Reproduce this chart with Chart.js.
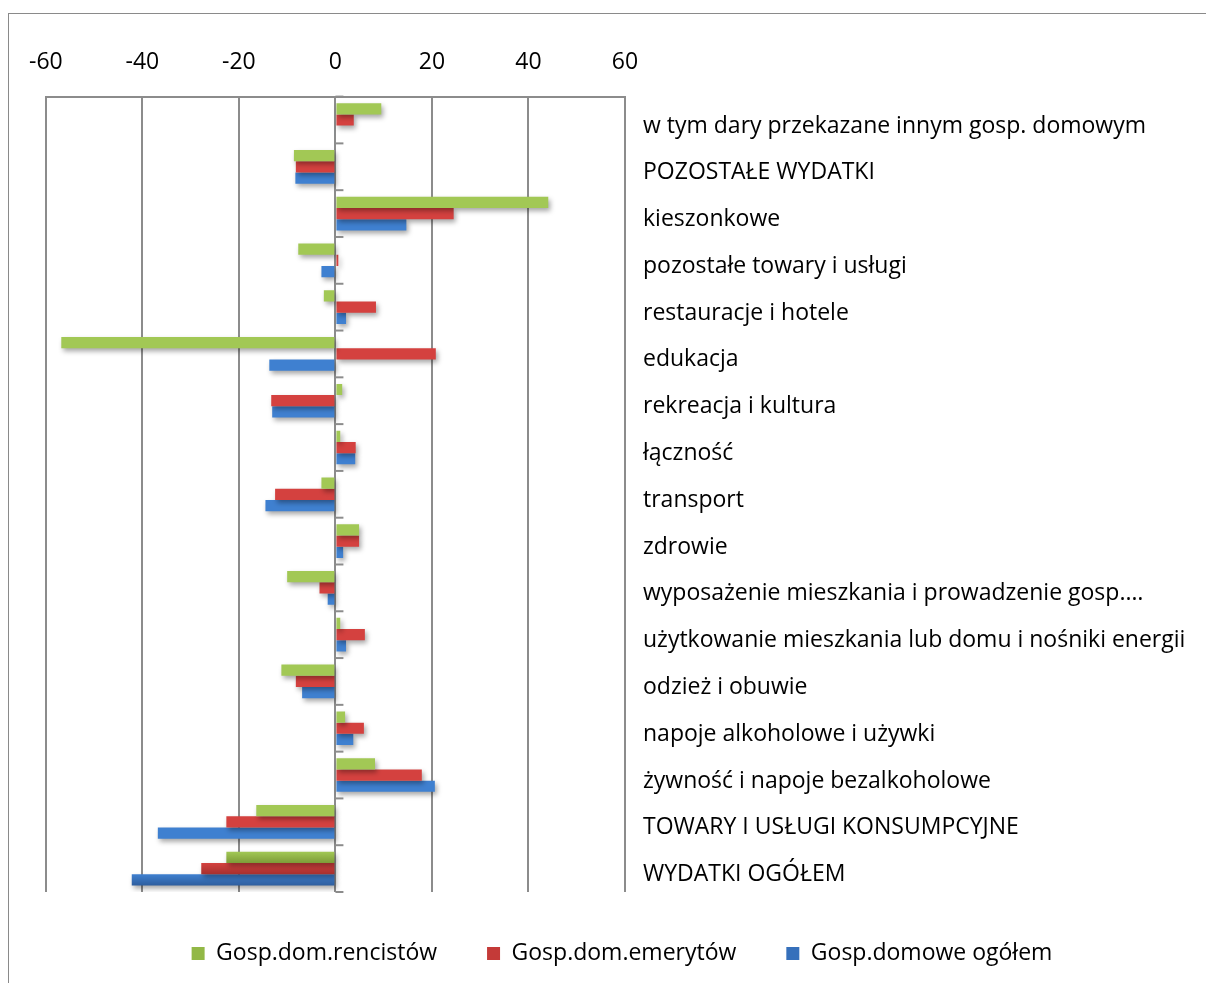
<!DOCTYPE html>
<html>
<head>
<meta charset="utf-8">
<script src="https://cdn.jsdelivr.net/npm/chart.js@4.4.1/dist/chart.umd.min.js"></script>
<style>
  html, body { margin: 0; padding: 0; background: #fff; overflow: hidden; }
  #box { position: absolute; left: 8px; top: 13px; width: 1224px; height: 982px; border: 1px solid #8a8a8a; }
  canvas { display: block; }
</style>
</head>
<body>
<div id="box"><canvas id="c" width="1198" height="980"></canvas></div>
<script>
const categories = [
  "w tym dary przekazane innym gosp. domowym",
  "POZOSTAŁE WYDATKI",
  "kieszonkowe",
  "pozostałe towary i usługi",
  "restauracje i hotele",
  "edukacja",
  "rekreacja i kultura",
  "łączność",
  "transport",
  "zdrowie",
  "wyposażenie mieszkania i prowadzenie gosp.…",
  "użytkowanie mieszkania lub domu i nośniki energii",
  "odzież i obuwie",
  "napoje alkoholowe i używki",
  "żywność i napoje bezalkoholowe",
  "TOWARY I USŁUGI KONSUMPCYJNE",
  "WYDATKI OGÓŁEM"
];
const seriesNames = ["Gosp.dom.rencistów", "Gosp.dom.emerytów", "Gosp.domowe ogółem"];
const rencistow = [9.5, -8.6, 44.1, -7.7, -2.4, -56.8, 1.4, 1.0, -2.9, 4.9, -10.0, 1.0, -11.2, 2.0, 8.2, -16.4, -22.6];
const emerytow  = [3.8, -8.2, 24.5, 0.6, 8.4, 20.8, -13.3, 4.2, -12.5, 4.9, -3.3, 6.1, -8.2, 5.9, 17.9, -22.6, -27.8];
const ogolem    = [-0.2, -8.3, 14.7, -2.9, 2.2, -13.7, -13.1, 4.1, -14.5, 1.6, -1.6, 2.2, -6.9, 3.7, 20.6, -36.8, -42.2];
const axisMin = -60, axisMax = 60, axisStep = 20;

const FONT = "'Open Sans', sans-serif";
const FSIZE = 23;
const gridColor = "#8c8c8c";
const colors = [
  { mid: "#92b846", top: "#a2c855", bot: "#7d9c38" },
  { mid: "#c43a38", top: "#d4413f", bot: "#a6302e" },
  { mid: "#3670bb", top: "#3f80d0", bot: "#2e5e9e" }
];

const gradientPlugin = {
  id: "barGradient",
  beforeDatasetsDraw(chart) {
    const ctx = chart.ctx;
    chart.data.datasets.forEach((ds, di) => {
      const meta = chart.getDatasetMeta(di);
      meta.data.forEach(el => {
        const h = el.height;
        const g = ctx.createLinearGradient(0, el.y - h / 2, 0, el.y + h / 2);
        g.addColorStop(0, colors[di].top);
        g.addColorStop(1, colors[di].bot);
        el.options.backgroundColor = g;
      });
    });
    ctx.save();
    ctx.shadowColor = "rgba(0,0,0,0.35)";
    ctx.shadowBlur = 5;
    ctx.shadowOffsetX = 2;
    ctx.shadowOffsetY = 3;
  },
  afterDatasetsDraw(chart) {
    chart.ctx.restore();
    const ctx = chart.ctx;
    const xs = chart.scales.x, ys = chart.scales.y;
    const x0 = xs.getPixelForValue(0);
    ctx.save();
    ctx.strokeStyle = gridColor;
    ctx.lineWidth = 2;
    for (let i = 0; i <= categories.length; i++) {
      const y = ys.getPixelForValue(i - 0.5);
      ctx.beginPath();
      ctx.moveTo(x0, y);
      ctx.lineTo(x0 + 8, y);
      ctx.stroke();
    }
    ctx.restore();
  }
};

new Chart(document.getElementById("c"), {
  type: "bar",
  data: {
    labels: categories,
    datasets: [
      { label: seriesNames[0], data: rencistow, backgroundColor: colors[0].mid },
      { label: seriesNames[1], data: emerytow,  backgroundColor: colors[1].mid },
      { label: seriesNames[2], data: ogolem,    backgroundColor: colors[2].mid }
    ]
  },
  options: {
    indexAxis: "y",
    responsive: false,
    animation: false,
    events: [],
    datasets: { bar: { categoryPercentage: 0.72, barPercentage: 1.0, borderWidth: 0 } },
    layout: { padding: { left: 28, top: 15, right: 0, bottom: 19 } },
    scales: {
      x: {
        position: "top",
        min: axisMin, max: axisMax,
        ticks: { stepSize: axisStep, color: "#000", font: { family: FONT, size: FSIZE }, padding: 20 },
        grid: { color: gridColor, lineWidth: 2, drawTicks: false },
        border: { display: true, color: gridColor, width: 2 }
      },
      y: {
        position: "right",
        ticks: { color: "#000", font: { family: FONT, size: FSIZE }, crossAlign: "near", padding: 18, labelOffset: 6, autoSkip: false },
        grid: { display: false, drawTicks: false },
        border: { display: false },
        afterFit(scale) { scale.width = 582; }
      }
    },
    plugins: {
      legend: {
        position: "bottom",
        labels: { color: "#000", font: { family: FONT, size: FSIZE }, boxWidth: 13, boxHeight: 13, padding: 50 }
      },
      tooltip: { enabled: false }
    }
  },
  plugins: [gradientPlugin]
});
</script>
</body>
</html>
